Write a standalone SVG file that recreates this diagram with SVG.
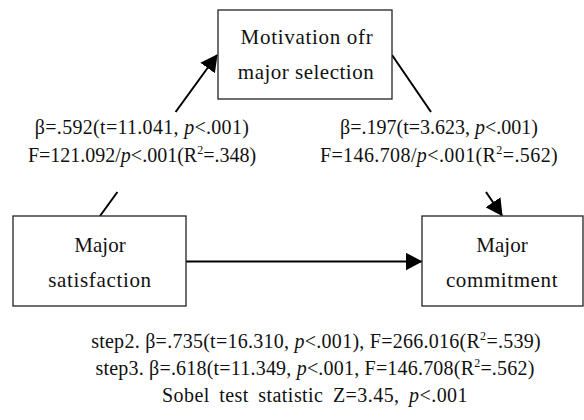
<svg xmlns="http://www.w3.org/2000/svg" width="584" height="420" viewBox="0 0 584 420">
  <defs>
    <marker id="head" viewBox="0 0 17 18" markerUnits="userSpaceOnUse" markerWidth="17" markerHeight="18" refX="16" refY="9" orient="auto">
      <path d="M0,0 L17,9 L0,18 Z" fill="#000"/>
    </marker>
    <style>
      .box { fill: #fff; stroke: #222; stroke-width: 1.3; }
      .edge { stroke: #000; stroke-width: 2; fill: none; }
      text { font-family: "Liberation Serif", "Times New Roman", serif; font-size: 20px; fill: #111; text-anchor: middle; }
      .node text { font-size: 21px; }
      .it { font-style: italic; }
      .sup { font-size: 12px; }
    </style>
  </defs>
  <rect width="584" height="420" fill="#fff"/>

  <!-- connectors -->
  <g id="connectors">
    <line class="edge" x1="100" y1="216" x2="117.4" y2="192"/>
    <line class="edge" x1="175.6" y1="112" x2="217" y2="55" marker-end="url(#head)"/>
    <line class="edge" x1="392" y1="55" x2="431" y2="112"/>
    <line class="edge" x1="486" y1="192" x2="502" y2="215.5" marker-end="url(#head)"/>
    <line class="edge" x1="186" y1="261.5" x2="421.5" y2="261.5" marker-end="url(#head)"/>
  </g>

  <!-- nodes -->
  <g id="node-motivation" class="node">
    <rect class="box" x="218" y="10" width="174" height="89"/>
    <text x="307" y="44" letter-spacing="0.7">Motivation ofr</text>
    <text x="306" y="79" letter-spacing="0.5">major selection</text>
  </g>
  <g id="node-satisfaction" class="node">
    <rect class="box" x="13" y="216" width="173" height="90"/>
    <text x="100" y="252">Major</text>
    <text x="100" y="287" letter-spacing="0.65">satisfaction</text>
  </g>
  <g id="node-commitment" class="node">
    <rect class="box" x="422" y="216" width="161" height="90"/>
    <text x="502" y="252">Major</text>
    <text x="502" y="287" letter-spacing="0.6">commitment</text>
  </g>

  <!-- path labels -->
  <g id="label-a">
    <text x="142" y="134" letter-spacing="0.3">β=.592(t=11.041, <tspan class="it">p</tspan>&lt;.001)</text>
    <text x="142" y="162">F=121.092/<tspan class="it">p</tspan>&lt;.001(R<tspan class="sup" dy="-8">2</tspan><tspan dy="8">=.348)</tspan></text>
  </g>
  <g id="label-b">
    <text x="439" y="134">β=.197(t=3.623, <tspan class="it">p</tspan>&lt;.001)</text>
    <text x="439" y="162" letter-spacing="0.4">F=146.708/<tspan class="it">p</tspan>&lt;.001(R<tspan class="sup" dy="-8">2</tspan><tspan dy="8">=.562)</tspan></text>
  </g>

  <!-- summary -->
  <g id="summary">
    <text x="316" y="348" letter-spacing="0.26">step2. β=.735(t=16.310, <tspan class="it">p</tspan>&lt;.001), F=266.016(R<tspan class="sup" dy="-8">2</tspan><tspan dy="8">=.539)</tspan></text>
    <text x="315" y="375" letter-spacing="0.2">step3. β=.618(t=11.349, <tspan class="it">p</tspan>&lt;.001, F=146.708(R<tspan class="sup" dy="-8">2</tspan><tspan dy="8">=.562)</tspan></text>
    <text x="315" y="402" letter-spacing="0.45" word-spacing="4">Sobel test statistic Z=3.45, <tspan class="it">p</tspan>&lt;.001</text>
  </g>
</svg>
